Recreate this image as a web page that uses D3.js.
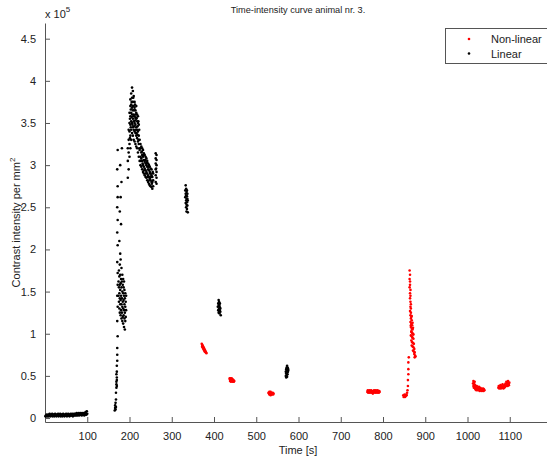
<!DOCTYPE html>
<html>
<head>
<meta charset="utf-8">
<script src="https://cdn.jsdelivr.net/npm/d3@7"></script>
<style>
  html, body { margin: 0; padding: 0; background: #fff; }
  svg { display: block; font-family: "Liberation Sans", Arial, sans-serif; }
</style>
</head>
<body>
<svg id="chart" width="547" height="460"></svg>
<script>
// Contrast intensity samples: [time in s, intensity in units of 10^5 per mm^2]
const linearBaseline = [
  [1,0.02],[2,0.03],[3,0.02],[4,0.04],[5,0.03],[6,0.02],[7,0.03],[8,0.04],[9,0.02],[10,0.03],
  [11,0.05],[12,0.03],[13,0.02],[14,0.04],[15,0.03],[16,0.03],[17,0.05],[18,0.02],[19,0.04],[20,0.03],
  [21,0.04],[22,0.02],[23,0.03],[24,0.05],[25,0.03],[26,0.04],[27,0.02],[28,0.03],[29,0.04],[30,0.03],
  [31,0.05],[32,0.02],[33,0.04],[34,0.03],[35,0.03],[36,0.05],[37,0.02],[38,0.04],[39,0.03],[40,0.04],
  [41,0.02],[42,0.03],[43,0.05],[44,0.03],[45,0.04],[46,0.02],[47,0.03],[48,0.04],[49,0.03],[50,0.05],
  [51,0.03],[52,0.02],[53,0.04],[54,0.03],[55,0.05],[56,0.03],[57,0.04],[58,0.02],[59,0.04],[60,0.03],
  [61,0.05],[62,0.03],[63,0.04],[64,0.03],[65,0.05],[66,0.02],[67,0.04],[68,0.03],[69,0.05],[70,0.04],
  [71,0.03],[72,0.05],[73,0.04],[74,0.03],[75,0.06],[76,0.04],[77,0.03],[78,0.05],[79,0.04],[80,0.06],
  [81,0.03],[82,0.05],[83,0.04],[84,0.06],[85,0.04],[86,0.05],[87,0.03],[88,0.06],[89,0.04],[90,0.05],
  [91,0.04],[92,0.06],[93,0.03],[94,0.05],[95,0.04],[96,0.07],[97,0.05],[98,0.04],[99,0.08],[100,0.05]
];

const linearUptake = [
  [165,0.09],[166,0.12],[166,0.15],[167,0.10],[167,0.18],[168,0.13],[168,0.22],[168,0.30],[169,0.36],[169,0.40],
  [169,0.43],[170,0.38],[170,0.45],[170,0.48],[169,0.52],[170,0.55],[170,0.62],[171,0.68],[171,0.75],[171,0.83],
  [172,0.97],[171,1.15],[172,1.32],[171,1.45],[172,1.58],[172,1.72],[171,1.85],[172,2.05],[171,2.2],[172,2.35],
  [171,2.5],[172,2.62],[172,2.75],[171,2.95],[172,3.18],
  [174,1.45],[174,1.62],[175,1.38],[175,1.55],[175,1.75],[176,1.30],[176,1.48],[176,1.68],[177,1.25],[177,1.42],
  [177,1.58],[177,1.82],[178,1.35],[178,1.52],[178,1.70],[179,1.22],[179,1.40],[179,1.60],[179,1.88],[180,1.28],
  [180,1.45],[180,1.65],[181,1.18],[181,1.35],[181,1.55],[181,1.78],[182,1.25],[182,1.42],[182,1.62],[183,1.15],
  [183,1.32],[183,1.50],[183,1.70],[184,1.20],[184,1.38],[184,1.58],[185,1.12],[185,1.30],[185,1.48],[185,1.65],
  [186,1.22],[186,1.40],[186,1.55],[187,1.08],[187,1.28],[187,1.45],[187,1.62],[188,1.18],[188,1.35],[188,1.52],
  [189,1.05],[189,1.25],[189,1.42],[190,1.15],[190,1.32],[190,1.48],[191,1.20],[191,1.38],[192,1.28],[192,1.45],
  [178,1.95],[176,2.1],[180,2.3],[177,2.45],[179,2.62],[181,2.8],[178,3.0],[182,3.2]
];

const linearPeak = [
  [196,2.85],[196,3.05],[196,3.2],
  [198,2.95],[198,3.15],[198,3.3],[198,3.42],
  [200,3.1],[200,3.25],[200,3.4],[200,3.5],[200,3.62],
  [202,3.2],[202,3.35],[202,3.48],[202,3.58],[202,3.7],[202,3.78],
  [204,3.3],[204,3.42],[204,3.52],[204,3.62],[204,3.72],[204,3.85],
  [206,3.38],[206,3.5],[206,3.6],[206,3.68],[206,3.8],[206,3.92],
  [208,3.35],[208,3.45],[208,3.55],[208,3.65],[208,3.75],[208,3.88],
  [210,3.3],[210,3.42],[210,3.52],[210,3.6],[210,3.7],[210,3.82],
  [212,3.28],[212,3.4],[212,3.5],[212,3.58],[212,3.68],[212,3.75],
  [214,3.25],[214,3.38],[214,3.48],[214,3.56],[214,3.65],
  [216,3.22],[216,3.35],[216,3.45],[216,3.55],[216,3.62],[216,3.7],
  [218,3.2],[218,3.32],[218,3.42],[218,3.52],[218,3.6],
  [220,3.15],[220,3.28],[220,3.4],[220,3.5],[220,3.58],
  [222,3.1],[222,3.25],[222,3.35],[222,3.48],
  [224,3.05],[224,3.18],[224,3.3],
  [201,3.32],[201,3.55],[203,3.45],[203,3.66],[205,3.57],[205,3.75],[207,3.48],[207,3.7],[209,3.58],[209,3.8],
  [211,3.46],[211,3.65],[213,3.53],[213,3.72],[215,3.42],[215,3.6],[217,3.38],[217,3.56],[219,3.46],[219,3.36],
  [221,3.3],[221,3.52],[223,3.2],[223,3.42]
];

const linearShoulder = [
  [226,3.0],[226,3.1],[226,3.2],[226,3.25],[228,2.98],[228,3.08],[228,3.15],[228,3.22],
  [230,2.95],[230,3.05],[230,3.12],[230,3.2],[232,2.92],[232,3.0],[232,3.1],[232,3.18],
  [234,2.9],[234,2.98],[234,3.06],[234,3.14],[236,2.88],[236,2.96],[236,3.04],[236,3.12],
  [238,2.86],[238,2.94],[238,3.02],[238,3.1],[240,2.85],[240,2.92],[240,3.0],[240,3.08],
  [242,2.82],[242,2.9],[242,2.98],[242,3.05],[244,2.8],[244,2.88],[244,2.95],[244,3.02],
  [246,2.78],[246,2.86],[246,2.94],[246,3.0],[248,2.76],[248,2.84],[248,2.92],[248,2.98],
  [250,2.75],[250,2.82],[250,2.9],[250,2.96],[252,2.74],[252,2.8],[252,2.88],[252,2.95],
  [254,2.72],[254,2.8],[254,2.86],[256,2.75],[256,2.82],[256,2.9],
  [262,2.8],[262,2.88],[262,2.95],[262,3.02],[262,3.08],[262,3.14],
  [264,2.78],[264,2.85],[264,2.92],[264,3.0],[264,3.06],[264,3.12],
  [227,3.05],[229,3.16],[231,3.02],[233,3.12],[235,2.94],[237,3.06],[239,2.9],[241,3.03],
  [243,2.86],[245,2.98],[247,2.82],[249,2.9],[251,2.86],[253,2.78],[255,2.92],[263,2.96]
];

const linearLate = [
  [332,2.62],[332,2.7],[333,2.55],[333,2.66],[333,2.76],[334,2.5],[334,2.58],[334,2.64],[334,2.72],[335,2.45],
  [335,2.53],[335,2.6],[335,2.68],[336,2.48],[336,2.56],[336,2.63],[336,2.7],[337,2.52],[337,2.6],[337,2.66],
  [338,2.58],[338,2.44],
  [409,1.32],[410,1.28],[410,1.36],[411,1.25],[411,1.33],[411,1.4],[412,1.27],[412,1.3],[412,1.35],[412,1.38],
  [413,1.24],[413,1.29],[413,1.33],[414,1.27],[414,1.31],[414,1.36],[415,1.26],[415,1.3],[416,1.22],
  [570,0.5],[570,0.55],[571,0.48],[571,0.53],[571,0.58],[572,0.51],[572,0.56],[572,0.6],[573,0.49],[573,0.54],
  [573,0.58],[573,0.62],[574,0.52],[574,0.56],[574,0.6],[575,0.55],[575,0.59],[576,0.57]
];

const nonLinearEarly = [
  [371,0.88],[372,0.87],[372,0.85],[373,0.86],[373,0.84],[374,0.85],[374,0.83],[375,0.84],[375,0.82],[376,0.83],
  [376,0.81],[377,0.82],[377,0.8],[378,0.81],[378,0.79],[379,0.8],[380,0.79],[380,0.78],[381,0.78],[382,0.77],
  [437,0.47],[438,0.46],[438,0.44],[439,0.47],[440,0.45],[440,0.43],[441,0.46],[442,0.44],[442,0.47],[443,0.45],
  [444,0.43],[444,0.46],[445,0.44],[446,0.45],[447,0.43],[448,0.44],
  [529,0.3],[530,0.29],[531,0.31],[531,0.28],[532,0.3],[533,0.29],[534,0.27],[534,0.31],[535,0.29],[536,0.3],
  [537,0.28],[538,0.29],[539,0.3],[540,0.28],[541,0.29]
];

const nonLinearMid = [
  [763,0.31],[764,0.33],[765,0.3],[766,0.32],[767,0.31],[768,0.33],[769,0.3],[770,0.32],[771,0.31],[772,0.33],
  [773,0.3],[774,0.32],[775,0.31],[776,0.29],[777,0.32],[778,0.3],[779,0.33],[780,0.31],[781,0.32],[782,0.3],
  [783,0.33],[784,0.31],[785,0.32],[786,0.3],[787,0.33],[788,0.31],[789,0.32],[790,0.3],[791,0.32],[792,0.31],
  [848,0.27],[849,0.25],[850,0.26],[851,0.28],[852,0.25],[853,0.27],[854,0.26],[855,0.28],[856,0.27],[857,0.3],
  [858,0.33],[859,0.38],[859,0.45],[860,0.52],[860,0.58],[860,0.66],[861,0.72],
  [863,1.75],[864,1.7],[863,1.65],[864,1.62],[864,1.58],[863,1.55],[865,1.52],[864,1.48],[865,1.45],[864,1.42],
  [865,1.38],[866,1.35],[865,1.32],[866,1.3],[864,1.27],[866,1.25],[865,1.22],[867,1.2],[866,1.18],[868,1.16],
  [865,1.14],[867,1.12],[869,1.1],[866,1.08],[868,1.06],[870,1.05],[867,1.03],[869,1.01],[871,1.0],[866,0.98],
  [868,0.97],[870,0.95],[872,0.94],[867,0.92],[869,0.9],[871,0.89],[873,0.88],[868,0.86],[870,0.85],[872,0.84],
  [874,0.82],[871,0.8],[873,0.79],[875,0.78],[874,0.76],[876,0.74],[875,0.72],[877,0.73],[866,1.1],[868,1.21],
  [870,1.13],[869,0.96],[871,1.07],[872,0.99],[867,1.02]
];

const nonLinearLate = [
  [1013,0.41],[1014,0.44],[1014,0.38],[1015,0.42],[1015,0.36],[1016,0.4],[1017,0.37],[1017,0.43],[1018,0.35],[1018,0.39],
  [1019,0.34],[1020,0.37],[1021,0.35],[1021,0.33],[1022,0.38],[1023,0.34],[1024,0.36],[1025,0.33],[1026,0.35],[1027,0.37],
  [1028,0.34],[1029,0.32],[1030,0.36],[1031,0.34],[1032,0.33],[1033,0.35],[1034,0.32],[1035,0.34],[1036,0.33],[1037,0.35],
  [1038,0.32],[1039,0.34],[1040,0.33],
  [1073,0.36],[1074,0.38],[1075,0.35],[1076,0.37],[1077,0.36],[1078,0.39],[1079,0.35],[1080,0.37],[1081,0.38],[1082,0.36],
  [1083,0.4],[1084,0.37],[1085,0.35],[1086,0.38],[1087,0.36],[1088,0.39],[1089,0.37],[1090,0.41],[1091,0.38],[1092,0.43],
  [1093,0.4],[1094,0.42],[1095,0.38],[1096,0.44],[1097,0.41],[1098,0.39],[1099,0.42]
];

const xTicks = [100, 200, 300, 400, 500, 600, 700, 800, 900, 1000, 1100];
const yTicks = [0, 0.5, 1, 1.5, 2, 2.5, 3, 3.5, 4, 4.5];
const seriesNames = ["Non-linear", "Linear"];
const seriesColors = ["#ff0000", "#000000"];

const linearPoints = [].concat(linearBaseline, linearUptake, linearPeak, linearShoulder, linearLate);
const nonLinearPoints = [].concat(nonLinearEarly, nonLinearMid, nonLinearLate);

const svg = d3.select("#chart");
const plot = { left: 45, right: 552, top: 23, bottom: 422 };

const x = d3.scaleLinear().domain([0, 1200]).range([plot.left, plot.right]);
const y = d3.scaleLinear().domain([-0.047, 4.686]).range([plot.bottom, plot.top]);

const axisColor = "#555";
const textColor = "#222";

// axes with inward ticks
const gx = svg.append("g").attr("transform", `translate(0,${plot.bottom})`)
  .call(d3.axisBottom(x).tickValues(xTicks).tickSize(-5).tickPadding(10).tickSizeOuter(0).tickFormat(d3.format("d")));
const gy = svg.append("g").attr("transform", `translate(${plot.left},0)`)
  .call(d3.axisLeft(y).tickValues(yTicks).tickSize(-5).tickPadding(9).tickSizeOuter(0).tickFormat(d3.format("")));

[gx, gy].forEach(g => {
  g.select(".domain").attr("stroke", axisColor);
  g.selectAll(".tick line").attr("stroke", axisColor);
  g.selectAll(".tick text").attr("fill", textColor).attr("font-size", 11)
    .attr("font-family", "'Liberation Sans', Arial, sans-serif");
});

// data points
function drawPoints(points, color) {
  svg.append("g").selectAll("circle").data(points).join("circle")
    .attr("cx", d => x(d[0]))
    .attr("cy", d => y(d[1]))
    .attr("r", 1.3)
    .attr("fill", color);
}
drawPoints(linearPoints, seriesColors[1]);
drawPoints(nonLinearPoints, seriesColors[0]);

// exponent note
const expo = svg.append("text").attr("x", 45).attr("y", 18)
  .attr("font-size", 11).attr("fill", textColor).text("x 10");
expo.append("tspan").attr("dy", -6).attr("font-size", 8).text("5");

// title
svg.append("text").attr("x", 298).attr("y", 13).attr("text-anchor", "middle")
  .attr("font-size", 9.2).attr("fill", textColor)
  .text("Time-intensity curve animal nr. 3.");

// x label
svg.append("text").attr("x", 298).attr("y", 454).attr("text-anchor", "middle")
  .attr("font-size", 11).attr("fill", textColor).text("Time [s]");

// y label
const yl = svg.append("text")
  .attr("transform", `translate(20,${(plot.top + plot.bottom) / 2}) rotate(-90)`)
  .attr("text-anchor", "middle").attr("font-size", 11).attr("fill", textColor)
  .text("Contrast intensity per mm");
yl.append("tspan").attr("dy", -5).attr("font-size", 8).text("2");

// legend
const legend = svg.append("g");
legend.append("rect").attr("x", 445.5).attr("y", 28.5).attr("width", 104).attr("height", 35)
  .attr("fill", "#fff").attr("stroke", axisColor).attr("stroke-width", 1);
seriesNames.forEach((name, i) => {
  const ly = 39 + i * 14.5;
  legend.append("circle").attr("cx", 469).attr("cy", ly).attr("r", 1.3).attr("fill", seriesColors[i]);
  legend.append("text").attr("x", 491).attr("y", ly + 4).attr("font-size", 11)
    .attr("fill", textColor).text(name);
});
</script>
</body>
</html>
